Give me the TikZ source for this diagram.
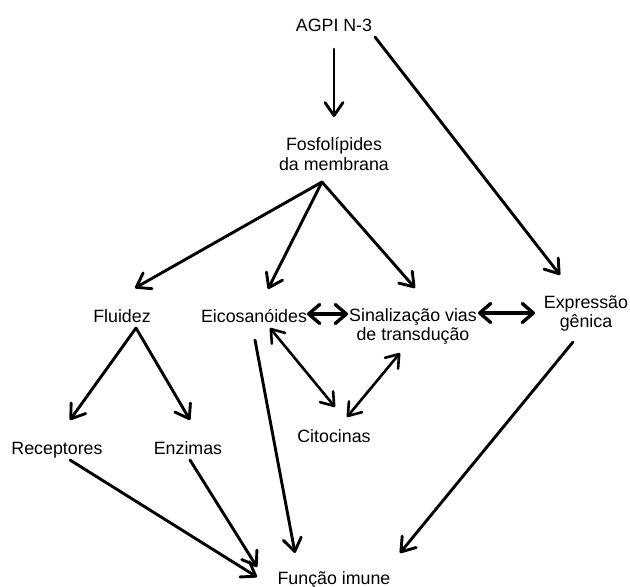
\documentclass[tikz,border=0pt]{standalone}
\usepackage{fontspec}
\setmainfont{Liberation Sans}
\usetikzlibrary{arrows.meta,calc}
\begin{document}
\begin{tikzpicture}[x=1pt,y=-1pt,
  lbl/.style={inner sep=0pt,outer sep=0pt,font=\fontsize{17.8}{19}\selectfont,text=black},
  lbltwo/.style={lbl,align=center,anchor=north},
  arr/.style={line width=2.9pt,line cap=round,-{Straight Barb[length=13pt,width=18pt,line cap=round,line join=round]}},
  darr/.style={line width=3.4pt,line cap=round,{Straight Barb[length=11pt,width=19pt,line cap=round,line join=round]}-{Straight Barb[length=11pt,width=19pt,line cap=round,line join=round]}},
  dthin/.style={line width=2.6pt,line cap=round,{Straight Barb[length=12pt,width=17pt,line cap=round,line join=round]}-{Straight Barb[length=12pt,width=17pt,line cap=round,line join=round]}}]
\useasboundingbox (0,0) rectangle (630,587);
\fill[white] (0,0) rectangle (630,587);
% nodes
\node[lbl,anchor=base] (agpi) at (334,31) {AGPI N-3};
\node[lbltwo,font=\fontsize{17.8}{20}\selectfont] (fosfo) at (334,137) {Fosfolípides\\da membrana};
\node[lbl,anchor=base] (fluidez) at (122,322) {Fluidez};
\node[lbl,anchor=base] (eicos) at (254,322) {Eicosanóides};
\node[lbltwo] (sinal) at (413,308.5) {Sinalização vias\\de transdução};
\node[lbltwo] (expr) at (586,296) {Expressão\\gênica};
\node[lbl,anchor=base] (recep) at (57,454) {Receptores};
\node[lbl,anchor=base] (enz) at (188,454) {Enzimas};
\node[lbl,anchor=base] (cito) at (334,442) {Citocinas};
\node[lbl,anchor=base] (funcao) at (334,584.5) {Função imune};
% connectors
\draw[arr] ($(agpi.base)+(0,18)$) -- ($(fosfo.north)+(0,-20)$);
\draw[arr] ($(agpi.base)+(41,6)$) -- ($(expr.north)+(-26,-21)$);
\draw[arr] ($(fosfo.north)+(-12,45)$) -- ($(fluidez.base)+(13,-34)$);
\draw[arr] ($(fosfo.north)+(-12,45)$) -- ($(eicos.base)+(14,-33)$);
\draw[arr] ($(fosfo.north)+(-12,45)$) -- ($(sinal.north)+(2,-20.5)$);
\draw[arr] ($(fluidez.base)+(14,6)$) -- ($(recep.base)+(13,-34)$);
\draw[arr] ($(fluidez.base)+(14,6)$) -- ($(enz.base)+(2,-34)$);
\draw[darr] ($(eicos.base)+(53,-8)$) -- ($(sinal.north)+(-65,5.5)$);
\draw[darr] ($(sinal.north)+(65,4.5)$) -- ($(expr.north)+(-51,17)$);
\draw[dthin] ($(eicos.base)+(16,6)$) -- ($(cito.base)+(1,-35)$);
\draw[dthin] ($(sinal.north)+(-13,44.5)$) -- ($(cito.base)+(13,-25)$);
\draw[arr] ($(eicos.base)+(1,18)$) -- ($(funcao.base)+(-39,-31.5)$);
\draw[arr] ($(recep.base)+(13,6)$) -- ($(funcao.base)+(-77,-7.5)$);
\draw[arr] ($(enz.base)+(2,6)$) -- ($(funcao.base)+(-77,-17.5)$);
\draw[arr] ($(expr.north)+(-13,46)$) -- ($(funcao.base)+(66,-31.5)$);
\end{tikzpicture}
\end{document}
